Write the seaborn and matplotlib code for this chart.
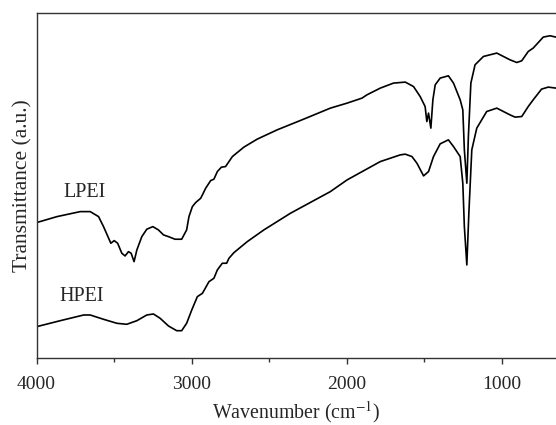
import numpy as np
import pandas as pd
import matplotlib
matplotlib.use("Agg")
import matplotlib.pyplot as plt
import seaborn as sns
from matplotlib.ticker import MultipleLocator

# Wavenumber (cm^-1) and transmittance (a.u.)
lpei_wn = [4000, 3868, 3718, 3654, 3600, 3568, 3535, 3521, 3499, 3477, 3450, 3429,
           3407, 3390, 3371, 3353, 3321, 3289, 3250, 3214, 3181, 3149, 3107, 3064,
           3032, 3017, 2995, 2974, 2941, 2909, 2877, 2856, 2834, 2808, 2781, 2766,
           2737, 2663, 2577, 2448, 2277, 2105, 1997, 1901, 1869, 1783, 1698, 1622,
           1569, 1526, 1494, 1483, 1472, 1457, 1444, 1429, 1397, 1344, 1311, 1268,
           1251, 1241, 1225, 1215, 1199, 1172, 1118, 1032, 947, 903, 871, 829, 797,
           732, 689, 651]
lpei_t = [135.3, 141.3, 146.3, 146.3, 141.3, 131.3, 119.7, 114.7, 117.3, 114.7, 104.7, 102.0,
          106.3, 104.7, 96.3, 108.0, 121.3, 128.7, 131.3, 128.0, 123.0, 121.3, 118.7, 118.7,
          128.0, 141.3, 151.3, 155.3, 159.7, 169.7, 177.3, 178.7, 186.3, 190.7, 191.3, 194.7,
          201.3, 210.7, 218.7, 228.0, 238.7, 249.7, 254.7, 259.7, 263.0, 269.7, 274.7, 275.7,
          271.3, 261.3, 251.3, 236.3, 244.7, 229.7, 258.0, 273.0, 279.7, 282.0, 274.7, 258.0,
          248.0, 208.0, 174.7, 221.3, 274.7, 293.0, 301.3, 304.7, 298.0, 295.3, 297.0, 306.3, 309.7,
          320.7, 322.0, 320.7]

hpei_wn = [4000, 3847, 3696, 3654, 3568, 3482, 3418, 3353, 3289, 3246, 3203, 3149,
           3096, 3064, 3032, 2999, 2963, 2930, 2888, 2856, 2834, 2802, 2774, 2759,
           2727, 2641, 2534, 2362, 2105, 1997, 1783, 1654, 1622, 1579, 1547, 1504,
           1472, 1440, 1397, 1344, 1311, 1268, 1251, 1241, 1225, 1212, 1193, 1161,
           1097, 1032, 947, 914, 871, 829, 797, 743, 700, 651]
hpei_t = [31.3, 37.3, 43.0, 43.0, 38.7, 34.7, 33.7, 37.3, 43.0, 44.0, 39.7, 32.0,
          27.3, 27.3, 34.7, 48.0, 61.3, 64.7, 76.3, 79.7, 88.0, 94.7, 94.7, 99.7,
          105.3, 116.3, 128.0, 144.7, 166.3, 178.0, 196.3, 203.0, 203.7, 201.3, 194.7, 182.0,
          186.3, 201.3, 214.0, 218.0, 211.3, 201.3, 174.7, 131.3, 93.0, 144.7, 208.0, 229.7,
          246.3, 249.7, 243.0, 240.7, 241.3, 251.3, 258.0, 268.7, 270.7, 269.7]

labels = ["LPEI", "HPEI"]
x_ticks = [4000, 3000, 2000, 1000]

sns.set_style("ticks")
plt.rcParams["font.family"] = ["Liberation Serif", "DejaVu Serif"]
plt.rcParams["mathtext.fontset"] = "stix"

fig = plt.figure(figsize=(5.56, 4.25), dpi=100)
ax = fig.add_axes([0.0657, 0.1576, 0.9343, 0.8124])

df_l = pd.DataFrame({"wn": lpei_wn, "t": lpei_t})
df_h = pd.DataFrame({"wn": hpei_wn, "t": hpei_t})
sns.lineplot(data=df_l, x="wn", y="t", sort=False, color="black", lw=1.2, ax=ax)
sns.lineplot(data=df_h, x="wn", y="t", sort=False, color="black", lw=1.2, ax=ax)

ax.set_xlim(4000, 650)
ax.set_ylim(0, 345)
ax.set_xticks(x_ticks)
ax.set_xticklabels([str(v) for v in x_ticks])
ax.xaxis.set_minor_locator(MultipleLocator(500))
ax.set_yticks([])
ax.tick_params(axis="x", which="major", direction="out", length=4, width=1, labelsize=14, pad=9, color="#333333")
ax.tick_params(axis="x", which="minor", direction="out", length=3, width=1, color="#333333")
for s in ["left", "top", "bottom"]:
    ax.spines[s].set_linewidth(1.0)
    ax.spines[s].set_color("#333333")
ax.spines["right"].set_visible(False)

ax.set_xlabel("Wavenumber (cm$^{-1}$)", fontsize=14.3, labelpad=4)
ax.set_ylabel("Transmittance (a.u.)", fontsize=15.5, labelpad=3)

ax.text(3690, 358 - 193, labels[0], fontsize=14.5, ha="center", va="center")
ax.text(3710, 358 - 297, labels[1], fontsize=14.5, ha="center", va="center")

fig.savefig("out.png", dpi=100)
